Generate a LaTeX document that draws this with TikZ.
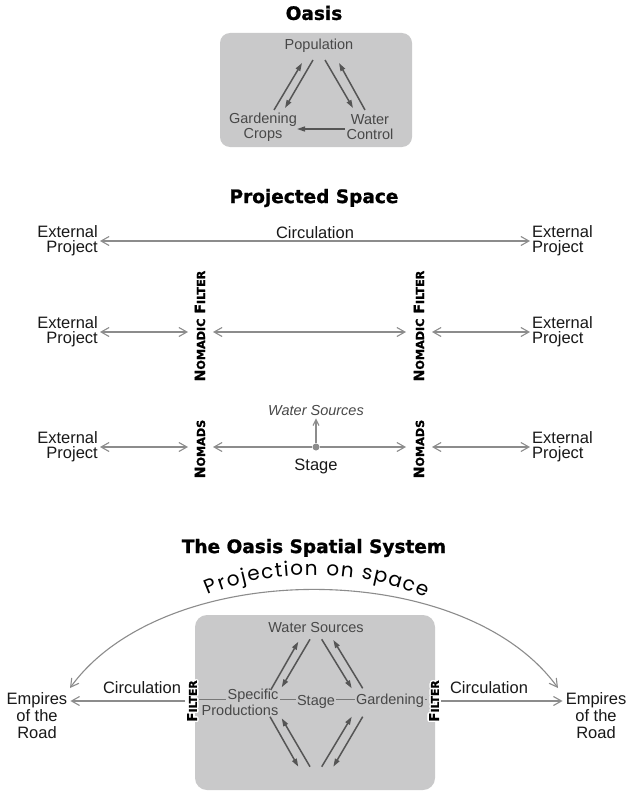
\documentclass[tikz,border=0pt]{standalone}
\usepackage{fontspec}
\setmainfont{Liberation Sans}
\newfontfamily\heavy{DejaVu Sans}[BoldFeatures={FakeBold=1.2}]
\newfontfamily\arcfont{Poppins}
\usetikzlibrary{arrows.meta,calc,decorations.text}
\definecolor{boxgray}{RGB}{201,201,202}
\definecolor{intxt}{RGB}{72,72,72}
\definecolor{darkarr}{RGB}{85,85,85}
\definecolor{lightarr}{RGB}{140,140,140}
\definecolor{outtxt}{RGB}{25,25,25}
\definecolor{linegray}{RGB}{120,120,120}
\newcommand\scBig[1]{{\fontsize{14}{14}\selectfont #1}}
\newcommand\scSmall[1]{{\fontsize{11.2}{14}\selectfont #1}}
\newcommand\scFbig[1]{{\fontsize{13.5}{14}\selectfont #1}}
\newcommand\scFsmall[1]{{\fontsize{10.8}{14}\selectfont #1}}
\newcommand\nomfilter{\scBig{N}\scSmall{OMADIC}\hspace{5pt}\scBig{F}\scSmall{ILTER}}
\newcommand\nomads{\scBig{N}\scSmall{OMADS}}
\newcommand\filtertext{\scFbig{F}\scFsmall{ILTER}}
\tikzset{ob/.tip={Straight Barb[length=8pt,width=9pt]}}
\begin{document}
\begin{tikzpicture}[x=1pt,y=-1pt,
 title/.style={font=\heavy\bfseries\fontsize{18.5}{20}\selectfont, inner sep=0},
 graybox/.style={fill=boxgray, rounded corners=10pt, inner sep=0},
 intext/.style={font=\fontsize{14.5}{15}\selectfont, text=intxt, inner sep=0, align=center},
 outer/.style={font=\fontsize{16.5}{15}\selectfont, text=outtxt, inner sep=0},
 empires/.style={font=\fontsize{16.5}{17}\selectfont, text=outtxt, inner sep=3pt, align=center},
 vert/.style={font=\heavy\bfseries, rotate=90, inner sep=0},
 darr/.style={draw=darkarr, line width=1.5pt, -{Triangle[length=8pt,width=5pt]}},
 parr/.style={draw=lightarr, line width=1.1pt, ob-ob},
 parrone/.style={draw=lightarr, line width=1.1pt, -ob},
 uparr/.style={draw=lightarr, line width=1.1pt, -{Straight Barb[length=6pt,width=6pt]}},
 hline/.style={draw=linegray, line width=0.9pt}
]
\useasboundingbox[fill=white] (0,0) rectangle (628,792);

% ---------------- Oasis ----------------
\node[title] (t1) at (314,13) {Oasis};
\node[graybox, minimum width=192pt, minimum height=114pt] (b1) at (316,90) {};
\node[intext] (pop) at (319,46) {Population};
\node[intext] (gc) at (263,127) {Gardening\\Crops};
\node[intext] (wc) at (370,127) {Water\\Control};
\draw[darr] ($(gc.center)+(11,-17)$) -- ($(pop.center)+(-17,17)$);
\draw[darr] ($(pop.center)+(-6,14)$) -- ($(gc.center)+(22,-19)$);
\draw[darr] ($(pop.center)+(6,14)$) -- ($(wc.center)+(-17,-19)$);
\draw[darr] ($(wc.center)+(-5,-17)$) -- ($(pop.center)+(20,17)$);
\draw[darr] ($(wc.center)+(-25,2)$) -- ($(gc.center)+(34,2)$);

% ---------------- Projected Space ----------------
\node[title] (t2) at (314,198) {Projected Space};
\node[outer, align=right, anchor=east] (e1l) at (98,241) {External\\Project};
\node[outer, align=left, anchor=west] (e1r) at (532,241) {External\\Project};
\node[outer] (circ1) at (315,233) {Circulation};
\draw[parr] ([xshift=2pt]e1l.east) -- ([xshift=-2pt]e1r.west);

\node[outer, align=right, anchor=east] (e2l) at (98,332) {External\\Project};
\node[outer, align=left, anchor=west] (e2r) at (532,332) {External\\Project};
\node[vert] (nf1) at (200,326) {\nomfilter};
\node[vert] (nf2) at (419,326) {\nomfilter};
\draw[parr] ([xshift=2pt]e2l.east) -- ($(nf1.center)+(-12,6)$);
\draw[parr] ($(nf1.center)+(13,6)$) -- ($(nf2.center)+(-13,6)$);
\draw[parr] ($(nf2.center)+(13,6)$) -- ([xshift=-2pt]e2r.west);

\node[outer, align=right, anchor=east] (e3l) at (98,447) {External\\Project};
\node[outer, align=left, anchor=west] (e3r) at (532,447) {External\\Project};
\node[vert] (nm1) at (200,449) {\nomads};
\node[vert] (nm2) at (419,449) {\nomads};
\node[circle, fill=lightarr, inner sep=0, minimum size=7pt] (stg) at (316,447) {};
\node[outer] (stl) at (316,466) {Stage};
\node[font=\itshape\fontsize{14.5}{15}\selectfont, text=intxt, inner sep=0] (wsp) at (316,411) {Water Sources};
\draw[uparr] (stg) -- ([yshift=-2pt]wsp.south);
\draw[parrone] (stg) -- ($(nm1.center)+(13,-2)$);
\draw[parrone] (stg) -- ($(nm2.center)+(-13,-2)$);
\draw[parr] ([xshift=2pt]e3l.east) -- ($(nm1.center)+(-12,-2)$);
\draw[parr] ($(nm2.center)+(13,-2)$) -- ([xshift=-2pt]e3r.west);

% ---------------- The Oasis Spatial System ----------------
\node[title] (t3) at (314,548) {The Oasis Spatial System};
\node[graybox, rounded corners=12pt, minimum width=240pt, minimum height=175pt] (b2) at (315,702.5) {};

\coordinate (arcL) at (70,688);
\coordinate (arcR) at (558,688);
\draw[draw=lightarr, line width=1.1pt, ob-ob] (arcL) .. controls (165,557) and (463,557) .. (arcR);
\path[decorate, decoration={text along path,
  text={|\arcfont\fontsize{20}{20}\selectfont|Projection on space},
  text align={fit to path}}]
  (208,595) .. controls (269,568) and (363,568) .. (426,598);

\node[intext] (ws) at (316,628) {Water Sources};
\node[intext] (spec1) at (253,696) {Specific};
\node[intext] (spec2) at (240,710) {Productions};
\node[intext] (stg2) at (316,702) {Stage};
\node[intext] (gd) at (390,701) {Gardening};
\coordinate (bot) at (316,775);

\node[empires] (empL) at (37,716) {Empires\\of the\\Road};
\node[empires] (empR) at (596,716) {Empires\\of the\\Road};
\node[outer] (c2l) at (142,688) {Circulation};
\node[outer] (c2r) at (489,688) {Circulation};

% filters with white halo
\foreach \a in {0,30,...,330}{
  \node[vert, text=white] at ($(192,701)+(\a:1.4)$) {\filtertext};
  \node[vert, text=white] at ($(434,701)+(\a:1.4)$) {\filtertext};
}
\node[vert] (fl) at (192,701) {\filtertext};
\node[vert] (fr) at (434,701) {\filtertext};

\draw[hline] ($(fl.center)+(7,-2)$) -- ($(spec1.center)+(-27,3)$);
\draw[hline] ($(spec1.center)+(27,3)$) -- ($(stg2.center)+(-20,-3)$);
\draw[hline] ($(stg2.center)+(20,-3)$) -- ($(gd.center)+(-35,-2)$);
\draw[hline] ($(gd.center)+(35,-2)$) -- ($(fr.center)+(-7,-2)$);

\draw[draw=lightarr, line width=1.1pt, -ob] ($(fl.center)+(-7,0)$) -- (empL.east |- fl.center);
\draw[draw=lightarr, line width=1.1pt, -ob] ($(fr.center)+(7,0)$) -- (empR.west |- fr.center);

% arrows inside the box
\draw[darr] ($(spec1.center)+(17.7,-6)$) -- ($(ws.center)+(-17.7,13.7)$);
\draw[darr] ($(ws.center)+(-6,11.3)$) -- ($(spec1.center)+(28.7,-8.7)$);
\draw[darr] ($(ws.center)+(5.7,11.3)$) -- ($(gd.center)+(-38.3,-12.7)$);
\draw[darr] ($(gd.center)+(-27.3,-12.7)$) -- ($(ws.center)+(17.3,12)$);
\draw[darr] ($(spec2.center)+(30,6.7)$) -- ($(bot)+(-17.7,-8.3)$);
\draw[darr] ($(bot)+(-6,-8.3)$) -- ($(spec2.center)+(41.7,8.3)$);
\draw[darr] ($(bot)+(5.7,-8.3)$) -- ($(gd.center)+(-38.3,15.7)$);
\draw[darr] ($(gd.center)+(-27.3,15.7)$) -- ($(bot)+(17.3,-8.3)$);
\end{tikzpicture}
\end{document}
